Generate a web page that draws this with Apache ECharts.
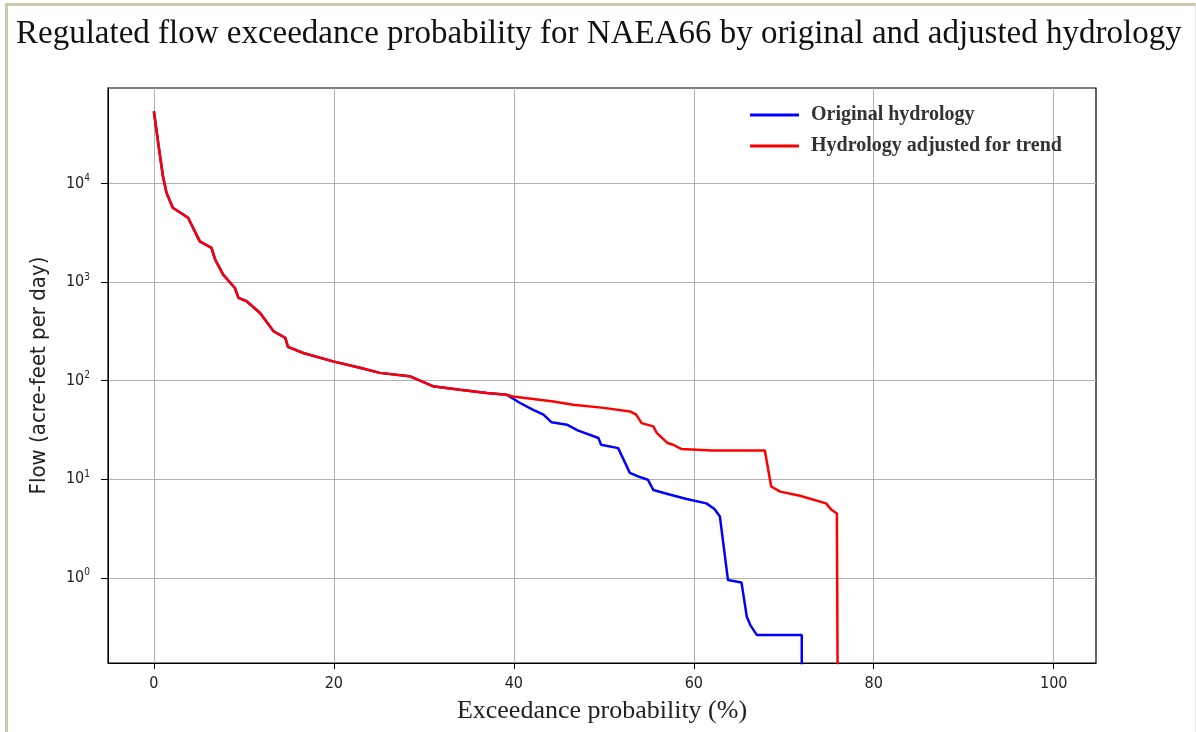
<!DOCTYPE html>
<html>
<head>
<meta charset="utf-8">
<script src="https://cdn.jsdelivr.net/npm/echarts@6/dist/echarts.min.js"></script>
<style>
    html, body { margin: 0; padding: 0; background: #fff; }
    #frame {
        position: absolute; left: 5px; top: 3px; width: 1191px; height: 729px;
        border-top: 3px solid #cdc9ad; border-left: 3px solid #cdc9ad;
        border-right: 1px solid #e4e2d4; box-sizing: border-box;
    }
    #chart { position: absolute; left: 0; top: 0; width: 1196px; height: 732px; }
</style>
</head>
<body>
<div id="frame"></div>
<div id="chart"></div>
<script>
// exceedance probability (%) and flow (acre-feet per day)
// part where both curves lie on top of each other
const sharedProb = [0, 0.5, 1.0, 1.4, 2.1, 3.8, 5.1, 6.4, 6.8, 7.7, 9.0, 9.4, 10.3, 11.8, 13.3, 14.6, 14.9, 16.6, 19.9, 22.9, 25.1, 28.4, 31.0, 34.0, 37.0, 39.2];
const sharedFlow = [54000, 25000, 11900, 8050, 5670, 4490, 2590, 2220, 1700, 1190, 870, 692, 639, 486, 317, 272, 220, 191, 157, 135, 120, 111, 88, 81, 75, 72];

// original hydrology, after the split
const origProb = [40.7, 42.1, 43.3, 44.2, 45.9, 47.1, 49.4, 49.7, 51.6, 52.9, 53.8, 54.9, 55.5, 57.3, 59.2, 61.4, 62.3, 62.9, 63.8, 65.3, 65.9, 66.3, 67.0, 72.0, 72.0];
const origFlow = [59.4, 50.8, 45.2, 37.8, 35.8, 31.3, 26.2, 22.4, 20.7, 11.6, 10.7, 9.9, 7.8, 7.0, 6.3, 5.7, 5.0, 4.2, 0.95, 0.9, 0.4, 0.33, 0.264, 0.264, 0.05];

// hydrology adjusted for trend, after the split
const adjProb = [39.9, 44.4, 46.6, 50.0, 52.9, 53.6, 54.2, 55.5, 55.9, 57.1, 57.7, 58.6, 62.1, 67.9, 68.6, 69.6, 71.8, 74.7, 75.3, 75.9, 76.0];
const adjFlow = [69, 61.6, 57, 53, 48.8, 45.2, 37.1, 34.4, 29.4, 23.3, 22.4, 20.3, 19.6, 19.6, 8.45, 7.5, 6.8, 5.7, 4.9, 4.5, 0.05];

const seriesNames = ["Original hydrology", "Hydrology adjusted for trend"];

const zip = (xs, ys) => xs.map((x, i) => [x, ys[i]]);
const origData = zip(sharedProb, sharedFlow).concat(zip(origProb, origFlow));
const adjData = zip(sharedProb, sharedFlow).concat(zip(adjProb, adjFlow));

const chart = echarts.init(document.getElementById("chart"));

const gridLine = {
    show: true,
    showMinLine: false,
    showMaxLine: false,
    lineStyle: { color: "#b0b0b0", width: 1 }
};

chart.setOption({
    animation: false,
    title: {
        text: "Regulated flow exceedance probability for NAEA66 by original and adjusted hydrology",
        left: 11,
        top: 13,
        textStyle: {
            fontFamily: "Liberation Serif",
            fontSize: 33,
            fontWeight: "normal",
            color: "#111"
        }
    },
    legend: {
        orient: "vertical",
        left: 745,
        top: 100,
        itemGap: 11,
        itemWidth: 49,
        itemHeight: 3,
        icon: "rect",
        textStyle: {
            fontFamily: "Liberation Serif",
            fontSize: 20,
            fontWeight: "bold",
            color: "#333",
            padding: [0, 0, 0, 7]
        },
        data: seriesNames
    },
    grid: {
        left: 108,
        right: 100,
        top: 88,
        bottom: 69,
        show: true,
        borderColor: "#000",
        borderWidth: 1.2
    },
    xAxis: {
        type: "value",
        min: -5.1,
        max: 104.7,
        splitNumber: 5,
        name: "Exceedance probability (%)",
        nameLocation: "middle",
        nameGap: 35,
        nameTextStyle: { fontFamily: "Liberation Serif", fontSize: 26, color: "#222" },
        axisLine: { show: true, onZero: false, lineStyle: { color: "#000" } },
        axisTick: { show: true, length: 6, lineStyle: { color: "#000" } },
        axisLabel: {
            showMinLabel: false,
            showMaxLabel: false,
            fontFamily: "DejaVu Sans Condensed",
            fontSize: 16,
            color: "#222",
            margin: 13
        },
        splitLine: gridLine
    },
    yAxis: {
        type: "log",
        min: 0.137,
        max: 93000,
        name: "Flow (acre-feet per day)",
        nameLocation: "middle",
        nameGap: 58,
        nameTextStyle: { fontFamily: "DejaVu Sans Condensed", fontSize: 22, color: "#222" },
        axisLine: { show: true, onZero: false, lineStyle: { color: "#000" } },
        axisTick: { show: true, length: 7, lineStyle: { color: "#000" } },
        axisLabel: {
            showMinLabel: false,
            showMaxLabel: false,
            margin: 18,
            color: "#222",
            fontFamily: "DejaVu Sans Condensed",
            fontSize: 16,
            formatter: value => {
                const e = Math.round(Math.log10(value));
                return "10{s|" + e + "}";
            },
            rich: {
                s: { fontSize: 10, padding: [0, 0, 10, 0], fontFamily: "DejaVu Sans Condensed", color: "#222" }
            }
        },
        splitLine: gridLine
    },
    series: [
        {
            name: seriesNames[0],
            type: "line",
            symbol: "none",
            color: "#0000ff",
            lineStyle: { width: 2.5, color: "#0000ff" },
            data: origData
        },
        {
            name: seriesNames[1],
            type: "line",
            symbol: "none",
            color: "#ff0000",
            lineStyle: { width: 2.5, color: "#ff0000" },
            data: adjData
        }
    ]
});
</script>
</body>
</html>
